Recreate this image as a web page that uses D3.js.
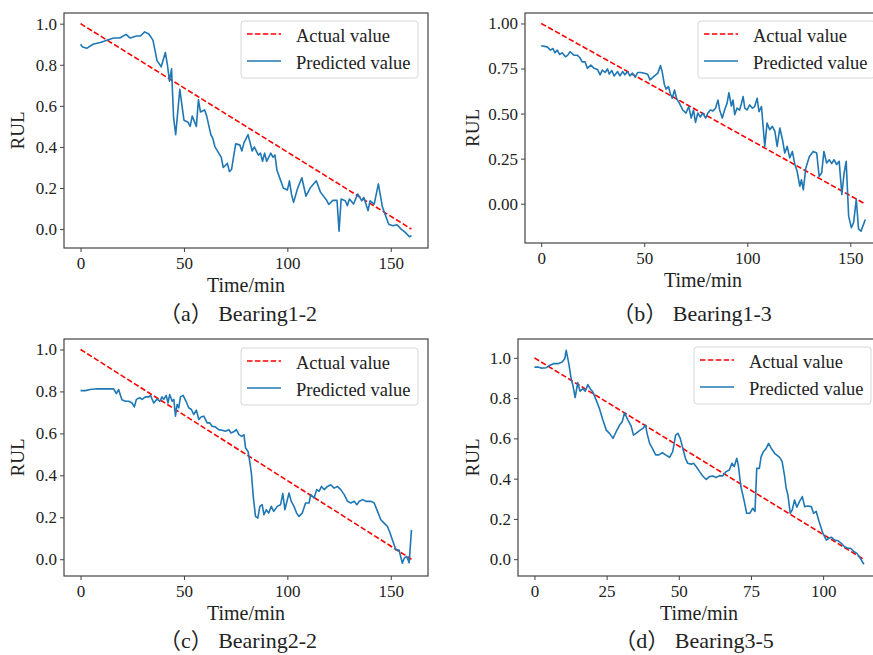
<!DOCTYPE html>
<html>
<head>
<meta charset="utf-8">
<script src="https://cdn.jsdelivr.net/npm/d3@7"></script>
<style>
  body { margin: 0; background: #fff; }
  text { font-family: "Liberation Serif", "Noto Sans CJK SC", serif; fill: #222; }
</style>
</head>
<body>
<div id="chart"></div>
<script>
// ---- data ----
const legendLabels = ["Actual value", "Predicted value"];
const captions = ["（a）  Bearing1-2", "（b）  Bearing1-3", "（c）  Bearing2-2", "（d）  Bearing3-5"];
const xTicksLong = [0, 50, 100, 150];
const xTicksShort = [0, 25, 50, 75, 100];
const yTicksA = [0, 0.2, 0.4, 0.6, 0.8, 1.0];
const yTicksB = [0, 0.25, 0.5, 0.75, 1.0];

// actual RUL: straight line, [time, value]
const actualA = [[0, 1], [160, 0]];
const actualB = [[0, 1], [157, 0]];
const actualC = [[0, 1], [160, 0]];
const actualD = [[0, 1], [114, 0]];

// predicted RUL, [time, value]
const predA = [[0,0.90],[1,0.886],[3,0.88],[6,0.90],[10,0.91],[13,0.92],[16,0.93],[19,0.93],[22,0.948],[24,0.93],
  [27,0.94],[29,0.94],[31,0.96],[33,0.95],[35,0.92],[37,0.82],[39,0.79],[41,0.86],[42,0.80],[43,0.72],
  [44,0.78],[45,0.54],[46,0.46],[48,0.68],[50,0.53],[52,0.52],[53,0.50],[54,0.55],[56,0.50],[57,0.63],
  [58,0.57],[60,0.58],[61,0.55],[63,0.46],[64,0.44],[65,0.40],[68,0.35],[69,0.30],[71,0.32],[72,0.28],
  [73,0.29],[75,0.415],[77,0.41],[78,0.38],[79,0.42],[81,0.46],[83,0.38],[84,0.40],[86,0.36],[87,0.37],
  [88,0.33],[89,0.37],[90,0.33],[92,0.37],[93,0.35],[94,0.36],[95,0.285],[97,0.23],[98,0.20],[100,0.19],
  [101,0.235],[102,0.17],[103,0.13],[105,0.20],[107,0.25],[109,0.16],[111,0.20],[114,0.235],[116,0.18],[119,0.14],
  [120,0.12],[122,0.14],[124,0.14],[125,-0.01],[126,0.146],[128,0.138],[129,0.114],[130,0.146],[132,0.122],[134,0.171],
  [136,0.138],[137,0.154],[139,0.09],[140,0.138],[142,0.122],[144,0.22],[146,0.106],[149,0.024],[151,0.016],[153,0.021],
  [155,0.0],[157,-0.016],[159,-0.037],[160,-0.032]];

const predB = [[0,0.876],[2.9,0.87],[4.5,0.852],[5.7,0.861],[6.7,0.837],[7.8,0.852],[8.9,0.828],[10.2,0.837],[11.8,0.815],[12.9,0.824],
  [14,0.843],[15.9,0.824],[17.5,0.824],[18.7,0.811],[19.9,0.787],[21.3,0.787],[22.4,0.751],[24.1,0.769],[25.7,0.751],[27.3,0.745],
  [28.6,0.715],[29.7,0.742],[31,0.728],[32.2,0.748],[33,0.72],[34.3,0.739],[35.4,0.709],[37.1,0.733],[38.2,0.709],[39.5,0.733],
  [40.6,0.715],[41.9,0.733],[43.1,0.709],[44.3,0.724],[45.7,0.702],[46.8,0.728],[48.4,0.728],[50.1,0.724],[51.7,0.718],[52.8,0.687],
  [55,0.709],[56.6,0.724],[57.9,0.766],[58.7,0.733],[59.8,0.66],[60.6,0.636],[61.8,0.65],[62.6,0.613],[63.6,0.585],[64.7,0.631],
  [65.8,0.58],[67.1,0.557],[68.7,0.52],[70.3,0.503],[71.6,0.539],[72.8,0.475],[73.9,0.52],[74.9,0.451],[76,0.503],[77.2,0.481],
  [78.5,0.503],[79.8,0.475],[80.9,0.503],[82.1,0.52],[83.4,0.515],[84.6,0.53],[85.8,0.575],[86.6,0.52],[87.9,0.475],[89,0.52],
  [90.2,0.557],[91.1,0.616],[92.3,0.542],[93.1,0.575],[93.9,0.494],[95,0.53],[96.3,0.52],[97.2,0.557],[98,0.594],[98.8,0.53],
  [99.9,0.52],[101.2,0.548],[102.5,0.53],[103.6,0.539],[104.8,0.585],[105.7,0.511],[106.9,0.539],[108.5,0.318],[109.6,0.447],[110.9,0.411],
  [112.2,0.429],[113.4,0.401],[114.5,0.318],[115.8,0.42],[117.1,0.355],[118.2,0.281],[119.4,0.318],[120.6,0.254],[121.9,0.29],[123.1,0.217],
  [124.2,0.18],[125.5,0.097],[126.3,0.133],[127.2,0.077],[128.4,0.197],[130.1,0.26],[132,0.29],[133.7,0.281],[134.9,0.152],[136.1,0.17],
  [137.2,0.29],[138.5,0.226],[139.8,0.244],[141,0.222],[142.1,0.244],[143.4,0.217],[144.6,0.235],[145.9,0.051],[147,0.17],[148,0.235],
  [149.2,-0.069],[150.5,-0.133],[151.6,-0.105],[152.9,0.024],[154,-0.14],[155.2,-0.152],[157.3,-0.088]];

const predC = [[0,0.804],[2.3,0.804],[4.7,0.809],[7.9,0.813],[11.2,0.812],[14.4,0.812],[16,0.812],[17.3,0.79],[18.4,0.809],[20,0.76],
  [21.7,0.753],[23.3,0.753],[24.9,0.745],[26,0.726],[27,0.762],[28.6,0.77],[29.8,0.762],[31.4,0.774],[33,0.774],[33.8,0.781],
  [35.4,0.745],[37,0.764],[38.3,0.753],[39.4,0.774],[40.2,0.762],[41.4,0.781],[42.3,0.745],[43.1,0.785],[44.3,0.753],[45.1,0.762],
  [45.9,0.682],[46.7,0.738],[47.5,0.722],[48.3,0.774],[49.6,0.781],[51,0.753],[52.3,0.722],[53.6,0.714],[54.7,0.69],[56,0.711],
  [57.2,0.666],[58.4,0.679],[59.6,0.682],[61.2,0.65],[62.5,0.65],[63.6,0.634],[65.2,0.631],[66.8,0.618],[68.5,0.615],[70.1,0.61],
  [71.7,0.618],[72.8,0.602],[74.5,0.61],[75.3,0.618],[76.6,0.594],[77.9,0.586],[79,0.594],[79.8,0.53],[81,0.514],[81.9,0.459],
  [82.6,0.411],[83.5,0.3],[84.6,0.204],[85.7,0.196],[86.7,0.252],[87.8,0.26],[88.7,0.212],[89.8,0.236],[91,0.22],[92.2,0.252],
  [93.4,0.228],[95.1,0.252],[96.7,0.26],[97.8,0.313],[98.8,0.236],[99.6,0.268],[100.8,0.316],[101.9,0.276],[103.2,0.252],[104.5,0.22],
  [105.6,0.204],[107.2,0.22],[108.8,0.268],[110.5,0.268],[111.3,0.308],[112.9,0.292],[114.2,0.332],[115.4,0.324],[116.5,0.347],[117.8,0.332],
  [119.4,0.347],[121,0.355],[122.6,0.339],[124.2,0.347],[125.8,0.332],[127.5,0.308],[129.1,0.276],[130.7,0.268],[132.3,0.276],[133.6,0.26],
  [134.8,0.276],[136.4,0.284],[138,0.276],[140.5,0.276],[142,0.268],[143.6,0.228],[145.2,0.188],[146.8,0.172],[148.4,0.156],[149.7,0.124],
  [150.8,0.092],[152.5,0.044],[154,0.044],[155.6,-0.019],[156.5,0.005],[157.7,0.013],[158.9,-0.016],[160,0.14]];

const predD = [[0,0.954],[1.2,0.954],[2.3,0.949],[4.1,0.951],[5.2,0.962],[6.6,0.971],[8.1,0.971],[9.6,0.979],[10.5,0.995],[11,1.037],
  [11.9,0.971],[12.7,0.897],[13.3,0.864],[14.1,0.803],[15,0.877],[15.8,0.834],[16.8,0.847],[17.6,0.834],[18.5,0.867],[19.3,0.847],
  [20.2,0.831],[21.4,0.79],[22.5,0.748],[23.7,0.691],[24.9,0.641],[26,0.625],[27.2,0.6],[28.3,0.633],[29.5,0.666],[30.4,0.682],
  [31.2,0.727],[32.4,0.691],[33.5,0.661],[34.3,0.616],[35.2,0.625],[36.6,0.641],[37.6,0.65],[38.5,0.666],[39,0.625],[39.9,0.575],
  [40.8,0.551],[42,0.518],[43.1,0.518],[44.3,0.529],[45.4,0.518],[46.8,0.506],[47.9,0.534],[48.9,0.616],[49.7,0.625],[50.5,0.6],
  [51.4,0.551],[52.3,0.501],[53.1,0.476],[54.3,0.472],[55.1,0.476],[56,0.46],[57.2,0.435],[58.3,0.413],[59.5,0.396],[60.6,0.41],
  [61.8,0.413],[62.9,0.406],[64.1,0.415],[65.2,0.413],[66.4,0.435],[67.5,0.443],[68.4,0.476],[69.2,0.46],[70.1,0.501],[70.6,0.468],
  [71.5,0.361],[72.7,0.286],[73.5,0.228],[74.6,0.228],[75.6,0.253],[76.4,0.237],[77,0.451],[77.9,0.451],[78.5,0.508],[79.3,0.534],
  [80.3,0.551],[81.1,0.575],[82,0.551],[83.2,0.526],[84.9,0.506],[85.8,0.485],[86.6,0.418],[87.2,0.352],[87.8,0.319],[88.6,0.228],
  [89.3,0.245],[90.1,0.294],[90.9,0.258],[91.8,0.286],[92.8,0.311],[93.6,0.261],[94.7,0.264],[95.9,0.261],[96.7,0.228],[97.6,0.237],
  [98.6,0.187],[99.9,0.129],[101.1,0.095],[102,0.104],[102.8,0.109],[104,0.095],[105.1,0.092],[106.3,0.079],[107.4,0.062],[108.6,0.054],
  [109.5,0.054],[110.6,0.038],[111.7,0.029],[112.9,0.004],[114.1,-0.025]];

// ---- layout ----
const W = 873, H = 655;
const svg = d3.select("#chart").append("svg")
  .attr("width", W).attr("height", H);

const panels = [
  { box: [64, 13, 428, 248], xd: [-8, 168], yd: [-0.092, 1.052], xt: xTicksLong, yt: yTicksA, fmt: ".1f",
    actual: actualA, pred: predA, caption: captions[0], capX: 238, capY: 321, rulX: 17, legX: 241, legY: 21 },
  { box: [525, 13, 881, 243], xd: [-7.85, 164.9], yd: [-0.218, 1.058], xt: xTicksLong, yt: yTicksB, fmt: ".2f",
    actual: actualB, pred: predB, caption: captions[1], capX: 692, capY: 321, rulX: 472, legX: 698, legY: 21 },
  { box: [64, 339, 428, 576], xd: [-8, 168], yd: [-0.08, 1.05], xt: xTicksLong, yt: yTicksA, fmt: ".1f",
    actual: actualC, pred: predC, caption: captions[2], capX: 238, capY: 648, rulX: 17, legX: 241, legY: 348 },
  { box: [518, 339, 880, 576], xd: [-5.7, 119.7], yd: [-0.0835, 1.0935], xt: xTicksShort, yt: yTicksA, fmt: ".1f",
    actual: actualD, pred: predD, caption: captions[3], capX: 694, capY: 648, rulX: 472, legX: 694, legY: 347 }
];

const RED = "#ff0000", BLUE = "#1f77b4";

panels.forEach(function (p) {
  const [x0, y0, x1, y1] = p.box;
  const x = d3.scaleLinear().domain(p.xd).range([x0, x1]);
  const y = d3.scaleLinear().domain(p.yd).range([y1, y0]);

  // axes
  const gx = svg.append("g")
    .attr("transform", `translate(0,${y1})`)
    .call(d3.axisBottom(x).tickValues(p.xt).tickSize(4).tickPadding(5).tickFormat(d3.format("d")));
  const gy = svg.append("g")
    .attr("transform", `translate(${x0},0)`)
    .call(d3.axisLeft(y).tickValues(p.yt).tickSize(4).tickPadding(3).tickFormat(d3.format(p.fmt)));
  [gx, gy].forEach(g => {
    g.select(".domain").remove();
    g.selectAll("line").attr("stroke", "#444");
    g.selectAll("text").style("font-size", "17px").style("font-family", "Liberation Serif").attr("fill", "#222");
  });

  const line = d3.line().x(d => x(d[0])).y(d => y(d[1]));

  svg.append("path").datum(p.actual)
    .attr("d", line).attr("fill", "none")
    .attr("stroke", RED).attr("stroke-width", 1.6).attr("stroke-dasharray", "5.5,2.4");

  svg.append("path").datum(p.pred)
    .attr("d", line).attr("fill", "none")
    .attr("stroke", BLUE).attr("stroke-width", 1.6).attr("stroke-linejoin", "round");

  // frame
  svg.append("rect")
    .attr("x", x0).attr("y", y0).attr("width", x1 - x0).attr("height", y1 - y0)
    .attr("fill", "none").attr("stroke", "#444").attr("stroke-width", 1.2);

  // labels
  svg.append("text")
    .attr("x", (x0 + x1) / 2 > W ? W : (x0 + x1) / 2).attr("y", y1 + 43.5)
    .attr("text-anchor", "middle").style("font-size", "20px").text("Time/min");
  svg.append("text")
    .attr("transform", `translate(${p.rulX},${(y0 + y1) / 2}) rotate(-90)`)
    .attr("dy", "0.35em").attr("text-anchor", "middle").style("font-size", "19px").text("RUL");
  svg.append("text")
    .attr("x", p.capX).attr("y", p.capY)
    .attr("text-anchor", "middle").style("font-size", "22px").text(p.caption);

  // legend
  const lg = svg.append("g").attr("transform", `translate(${p.legX},${p.legY})`);
  lg.append("rect").attr("width", 177).attr("height", 57).attr("rx", 3)
    .attr("fill", "#fff").attr("fill-opacity", 0.8).attr("stroke", "#d6d6d6");
  lg.append("line").attr("x1", 6).attr("x2", 40).attr("y1", 13).attr("y2", 13)
    .attr("stroke", RED).attr("stroke-width", 1.6).attr("stroke-dasharray", "5.5,2.4");
  lg.append("line").attr("x1", 6).attr("x2", 40).attr("y1", 40).attr("y2", 40)
    .attr("stroke", BLUE).attr("stroke-width", 1.6);
  lg.append("text").attr("x", 55).attr("y", 21).style("font-size", "18.5px").text(legendLabels[0]);
  lg.append("text").attr("x", 55).attr("y", 47.5).style("font-size", "18.5px").text(legendLabels[1]);
});
</script>
</body>
</html>
